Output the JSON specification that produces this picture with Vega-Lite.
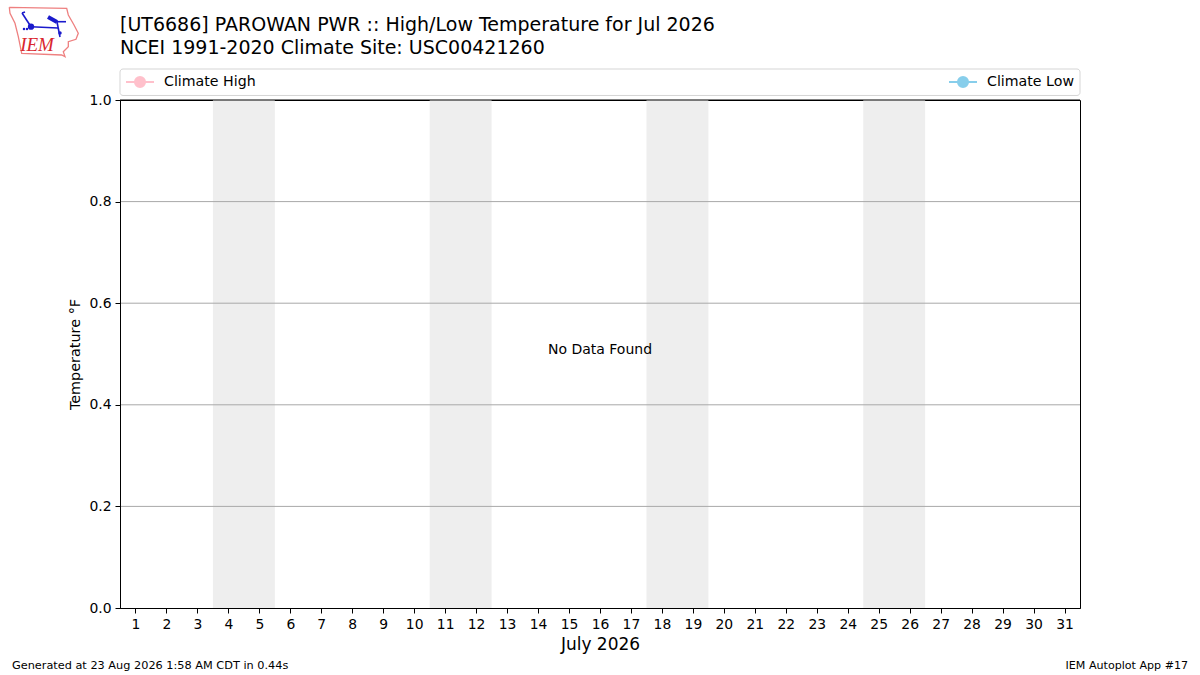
{
  "$schema": "https://vega.github.io/schema/vega-lite/v6.json",
  "width": 960,
  "height": 508,
  "autosize": "none",
  "padding": {"left": 120, "top": 100, "right": 120, "bottom": 67},
  "background": "white",
  "title": {
    "text": ["[UT6686] PAROWAN PWR :: High/Low Temperature for Jul 2026", "NCEI 1991-2020 Climate Site: USC00421260"],
    "anchor": "start",
    "frame": "group",
    "font": "DejaVu Sans",
    "fontSize": 19,
    "fontWeight": "normal",
    "lineHeight": 23,
    "offset": -53,
    "color": "black"
  },
  "config": {
    "font": "DejaVu Sans",
    "view": {"stroke": "black", "strokeWidth": 1}
  },
  "datasets": {
    "weekends": [
      {"day": 3.5, "day_end": 5.5, "temp": 0, "temp_end": 1},
      {"day": 10.5, "day_end": 12.5, "temp": 0, "temp_end": 1},
      {"day": 17.5, "day_end": 19.5, "temp": 0, "temp_end": 1},
      {"day": 24.5, "day_end": 26.5, "temp": 0, "temp_end": 1}
    ],
    "gridlines": [
      {"day": 0.5, "day_end": 31.5, "temp": 0.2},
      {"day": 0.5, "day_end": 31.5, "temp": 0.4},
      {"day": 0.5, "day_end": 31.5, "temp": 0.6},
      {"day": 0.5, "day_end": 31.5, "temp": 0.8}
    ],
    "topline": [{"day": 0.5, "day_end": 31.5, "temp": 1}],
    "high": [{"day": 1, "temp": null, "series": "Climate High"}],
    "low": [{"day": 1, "temp": null, "series": "Climate Low"}],
    "legendbox": [{"day": 0.5, "day_end": 31.5, "temp": 1.0089, "temp_end": 1.061}],
    "nodata": [{"day": 16, "temp": 0.5, "label": "No Data Found"}],
    "footleft": [{"day": -2.99, "temp": -0.114, "label": "Generated at 23 Aug 2026 1:58 AM CDT in 0.44s"}],
    "footright": [{"day": 34.99, "temp": -0.114, "label": "IEM Autoplot App #17"}],
    "logotext": [{"day": -2.18, "temp": 1.108, "label": "IEM"}],
    "logooutline": [
      {"i": 0, "day": -3.075, "temp": 1.1825},
      {"i": 1, "day": -1.221, "temp": 1.1805},
      {"i": 2, "day": -1.169, "temp": 1.1673},
      {"i": 3, "day": -0.985, "temp": 1.1476},
      {"i": 4, "day": -0.847, "temp": 1.1313},
      {"i": 5, "day": -0.921, "temp": 1.1195},
      {"i": 6, "day": -1.169, "temp": 1.1148},
      {"i": 7, "day": -1.169, "temp": 1.105},
      {"i": 8, "day": -1.331, "temp": 1.0951},
      {"i": 9, "day": -1.276, "temp": 1.0852},
      {"i": 10, "day": -1.383, "temp": 1.0886},
      {"i": 11, "day": -2.674, "temp": 1.0919},
      {"i": 12, "day": -2.784, "temp": 1.1246},
      {"i": 13, "day": -2.891, "temp": 1.151},
      {"i": 14, "day": -3.052, "temp": 1.1707},
      {"i": 15, "day": -3.075, "temp": 1.1825}
    ],
    "logoblue": [
      {"part": "bar", "i": 0, "day": -2.374, "temp": 1.1443},
      {"part": "bar", "i": 1, "day": -1.502, "temp": 1.1417},
      {"part": "staff", "i": 0, "day": -1.534, "temp": 1.1535},
      {"part": "staff", "i": 1, "day": -1.437, "temp": 1.124},
      {"part": "top", "i": 0, "day": -1.534, "temp": 1.1541},
      {"part": "top", "i": 1, "day": -1.244, "temp": 1.1541},
      {"part": "barb", "i": 0, "day": -2.664, "temp": 1.1713},
      {"part": "barb", "i": 1, "day": -2.374, "temp": 1.1443},
      {"part": "fork", "i": 0, "day": -2.664, "temp": 1.1713},
      {"part": "fork", "i": 1, "day": -2.567, "temp": 1.1732}
    ],
    "logowing": [
      {"part": "wing", "i": 0, "day": -1.825, "temp": 1.1634},
      {"part": "wing", "i": 1, "day": -1.534, "temp": 1.1535}
    ],
    "logodots": [
      {"day": -2.374, "temp": 1.1443, "s": 40},
      {"day": -2.6, "temp": 1.1398, "s": 6},
      {"day": -2.503, "temp": 1.1398, "s": 6},
      {"day": -1.437, "temp": 1.1319, "s": 12}
    ]
  },
  "encoding": {
    "x": {
      "field": "day",
      "type": "quantitative",
      "scale": {"domain": [0.5, 31.5], "nice": false, "zero": false},
      "axis": {
        "values": [1, 2, 3, 4, 5, 6, 7, 8, 9, 10, 11, 12, 13, 14, 15, 16, 17, 18, 19, 20, 21, 22, 23, 24, 25, 26, 27, 28, 29, 30, 31],
        "title": "July 2026",
        "titleFontSize": 17,
        "titleFontWeight": "normal",
        "titleColor": "black",
        "titlePadding": 6,
        "grid": false,
        "zindex": 1,
        "labelAngle": 0,
        "labelFontSize": 13.9,
        "labelColor": "black",
        "labelPadding": 4,
        "labelFlush": false,
        "labelOverlap": false,
        "tickColor": "black",
        "tickSize": 5,
        "domainColor": "black"
      }
    },
    "y": {
      "field": "temp",
      "type": "quantitative",
      "scale": {"domain": [0, 1], "nice": false, "zero": false},
      "axis": {
        "values": [0, 0.2, 0.4, 0.6, 0.8, 1],
        "format": ".1f",
        "title": "Temperature °F",
        "titleFontSize": 14.4,
        "titleFontWeight": "normal",
        "titleColor": "black",
        "titlePadding": 6,
        "grid": false,
        "zindex": 1,
        "labelFontSize": 13.9,
        "labelColor": "black",
        "labelPadding": 4,
        "labelFlush": false,
        "tickColor": "black",
        "tickSize": 5,
        "domainColor": "black"
      }
    }
  },
  "resolve": {"scale": {"color": "independent"}},
  "layer": [
    {
      "data": {"name": "weekends"},
      "mark": {"type": "rect", "color": "#eeeeee"},
      "encoding": {"x2": {"field": "day_end"}, "y2": {"field": "temp_end"}}
    },
    {
      "data": {"name": "gridlines"},
      "mark": {"type": "rule", "color": "#a8a8a8", "strokeWidth": 1},
      "encoding": {"x2": {"field": "day_end"}}
    },
    {
      "data": {"name": "topline"},
      "mark": {"type": "rule", "color": "black", "strokeWidth": 1},
      "encoding": {"x2": {"field": "day_end"}}
    },
    {
      "data": {"name": "legendbox"},
      "mark": {"type": "rect", "fill": "white", "stroke": "#d5d5d5", "strokeWidth": 1, "cornerRadius": 3, "clip": false},
      "encoding": {"x2": {"field": "day_end"}, "y2": {"field": "temp_end"}}
    },
    {
      "data": {"name": "high"},
      "mark": {"type": "line", "color": "pink"},
      "encoding": {
        "color": {
          "field": "series",
          "type": "nominal",
          "scale": {"domain": ["Climate High"], "range": ["pink"]},
          "legend": {
            "orient": "none",
            "legendX": 5,
            "legendY": -33,
            "title": null,
            "symbolType": "M-1,0H-0.36M0.36,0H1M0.36,0A0.36,0.36,0,1,1,-0.36,0A0.36,0.36,0,1,1,0.36,0",
            "symbolSize": 784,
            "symbolFillColor": "pink",
            "symbolStrokeWidth": 2,
            "labelFontSize": 14.2,
            "labelColor": "black",
            "labelOffset": 9
          }
        }
      }
    },
    {
      "data": {"name": "low"},
      "mark": {"type": "line", "color": "skyblue"},
      "encoding": {
        "color": {
          "field": "series",
          "type": "nominal",
          "scale": {"domain": ["Climate Low"], "range": ["skyblue"]},
          "legend": {
            "orient": "none",
            "legendX": 828,
            "legendY": -33,
            "title": null,
            "symbolType": "M-1,0H-0.36M0.36,0H1M0.36,0A0.36,0.36,0,1,1,-0.36,0A0.36,0.36,0,1,1,0.36,0",
            "symbolSize": 784,
            "symbolFillColor": "skyblue",
            "symbolStrokeWidth": 2,
            "labelFontSize": 14.2,
            "labelColor": "black",
            "labelOffset": 9
          }
        }
      }
    },
    {
      "data": {"name": "nodata"},
      "mark": {"type": "text", "fontSize": 14, "color": "black", "align": "center", "baseline": "bottom", "dy": 3},
      "encoding": {"text": {"field": "label"}}
    },
    {
      "data": {"name": "footleft"},
      "mark": {"type": "text", "fontSize": 11.3, "color": "black", "align": "left", "baseline": "middle"},
      "encoding": {"text": {"field": "label"}}
    },
    {
      "data": {"name": "footright"},
      "mark": {"type": "text", "fontSize": 11.1, "color": "black", "align": "right", "baseline": "middle"},
      "encoding": {"text": {"field": "label"}}
    },
    {
      "data": {"name": "logooutline"},
      "mark": {"type": "line", "color": "#ee8080", "strokeWidth": 1.3, "clip": false},
      "encoding": {"order": {"field": "i"}}
    },
    {
      "data": {"name": "logoblue"},
      "mark": {"type": "line", "color": "#1a1acc", "strokeWidth": 1.6, "clip": false},
      "encoding": {"detail": {"field": "part"}, "order": {"field": "i"}}
    },
    {
      "data": {"name": "logowing"},
      "mark": {"type": "line", "color": "#1a1acc", "strokeWidth": 4, "clip": false},
      "encoding": {"detail": {"field": "part"}, "order": {"field": "i"}}
    },
    {
      "data": {"name": "logodots"},
      "mark": {"type": "point", "filled": true, "color": "#1a1acc", "opacity": 1, "clip": false},
      "encoding": {"size": {"field": "s", "type": "quantitative", "scale": null, "legend": null}}
    },
    {
      "data": {"name": "logotext"},
      "mark": {"type": "text", "font": "Liberation Serif", "fontStyle": "italic", "fontSize": 19, "color": "#d9262e", "align": "center", "baseline": "middle"},
      "encoding": {"text": {"field": "label"}}
    }
  ]
}
